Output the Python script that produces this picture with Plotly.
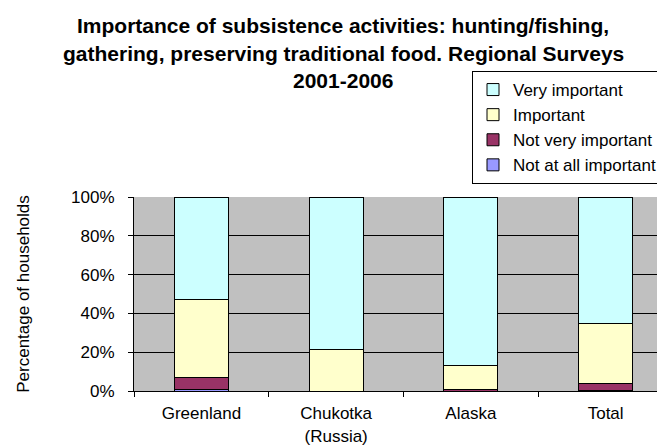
import plotly.graph_objects as go

categories = ["Greenland", "Chukotka<br>(Russia)", "Alaska", "Total"]
not_at_all = [1.0, 0.0, 0.0, 0.3]
not_very = [6.0, 0.0, 1.0, 3.8]
important = [40.4, 21.6, 11.9, 30.6]
very_important = [52.6, 78.4, 87.1, 65.3]

series_names = ["Not at all important", "Not very important", "Important", "Very important"]
series_values = [not_at_all, not_very, important, very_important]
series_colors = ["#9999FF", "#993366", "#FFFFCC", "#CCFFFF"]

title_lines = [
    "Importance of subsistence activities: hunting/fishing,",
    "gathering, preserving traditional food. Regional Surveys",
    "2001-2006",
]

FONT = "Arial, 'Liberation Sans', sans-serif"
W, H = 665, 447
L, R, T, B = 126, 0, 189, 64
PH = H - T - B
PW = W - L - R

fig = go.Figure()
for name, vals, col in zip(series_names, series_values, series_colors):
    fig.add_trace(go.Bar(
        x=categories, y=vals, name=name,
        marker=dict(color=col, line=dict(color="black", width=1)),
    ))

# title lines (Excel-like wide line spacing)
for i, line in enumerate(title_lines):
    ypx = 17 + 28 * i
    fig.add_annotation(
        text="<b>" + line + "</b>", showarrow=False,
        xref="paper", yref="paper",
        x=(335 - L) / PW, y=(H - B - ypx) / PH,
        xanchor="center", yanchor="middle",
        font=dict(family=FONT, size=21, color="black"),
    )

fig.update_layout(
    width=W, height=H,
    barmode="stack", bargap=0.6,
    paper_bgcolor="white", plot_bgcolor="#C0C0C0",
    margin=dict(l=L, r=R, t=T, b=B),
    font=dict(family=FONT, size=17, color="black"),
    legend=dict(
        traceorder="reversed",
        x=(464 - L) / PW, xanchor="left",
        y=(H - B - 63) / PH, yanchor="top",
        bgcolor="white", bordercolor="black", borderwidth=1,
        font=dict(family=FONT, size=17, color="black"),
        itemwidth=30,
    ),
    showlegend=True,
)

fig.update_xaxes(
    type="category", tickson="boundaries", ticks="outside", ticklen=5,
    tickcolor="black", showgrid=False, showline=True, linecolor="black",
    linewidth=1, tickfont=dict(size=17), ticklabelstandoff=7,
)
fig.update_yaxes(
    range=[0, 100], dtick=20, ticksuffix="%", ticks="outside", ticklen=5,
    tickcolor="black", showgrid=True, gridcolor="black", gridwidth=1,
    showline=True, linecolor="black", linewidth=1, zeroline=False,
    tickfont=dict(size=17), ticklabelstandoff=10,
    title=dict(text="Percentage of households", font=dict(size=17), standoff=37),
)

fig.write_html("out.html")
